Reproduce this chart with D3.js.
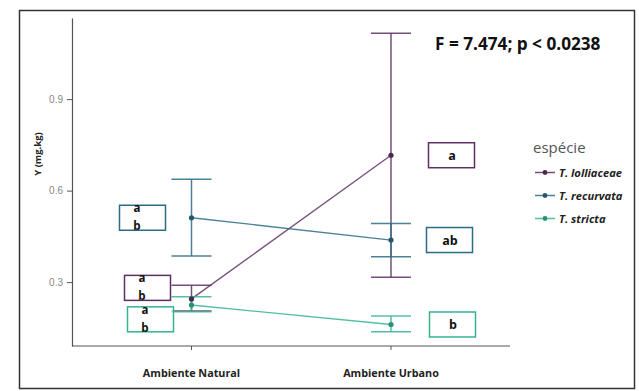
<!DOCTYPE html>
<html>
<head>
<meta charset="utf-8">
<script src="https://cdn.jsdelivr.net/npm/d3@7"></script>
<style>
  body { margin: 0; background: #fff; }
  svg { display: block; }
</style>
</head>
<body>
<svg id="chart" width="639" height="391"></svg>
<script>
// Environments on the x axis
const ambientes = ["Ambiente Natural", "Ambiente Urbano"];
// Species (legend order)
const especies = ["T. lolliaceae", "T. recurvata", "T. stricta"];
const cores = ["#5e2f63", "#2b6c84", "#34b394"];

// Means and error-bar limits per species, in ambiente order
const meanLolliaceae = [0.245, 0.716];
const lowLolliaceae  = [0.205, 0.316];
const highLolliaceae = [0.290, 1.116];

const meanRecurvata = [0.511, 0.438];
const lowRecurvata  = [0.386, 0.383];
const highRecurvata = [0.637, 0.492];

const meanStricta = [0.225, 0.161];
const lowStricta  = [0.203, 0.137];
const highStricta = [0.252, 0.189];

// Letter groups of the post-hoc test, per species and ambiente
const letrasLolliaceae = [["a", "b"], ["a"]];
const letrasRecurvata  = [["a", "b"], ["ab"]];
const letrasStricta    = [["a", "b"], ["b"]];

const yTicks = [0.3, 0.6, 0.9];
const statText = "F = 7.474; p < 0.0238";

const series = [
  { name: especies[0], color: cores[0], mean: meanLolliaceae, low: lowLolliaceae, high: highLolliaceae, letters: letrasLolliaceae },
  { name: especies[1], color: cores[1], mean: meanRecurvata, low: lowRecurvata, high: highRecurvata, letters: letrasRecurvata },
  { name: especies[2], color: cores[2], mean: meanStricta, low: lowStricta, high: highStricta, letters: letrasStricta }
];

const svg = d3.select("#chart");

// outer frame
svg.append("rect").attr("x", 19.5).attr("y", 10.5).attr("width", 615).attr("height", 378)
  .attr("fill", "#fff").attr("stroke", "#333").attr("stroke-width", 1.5);

const plot = { left: 72, right: 510, top: 18, bottom: 346 };

const y = d3.scaleLinear().domain([0.0905, 1.166]).range([plot.bottom, plot.top]);
// category centres sit at ~191 and ~391
const xc = d3.scaleLinear().domain([0, 1]).range([191.5, 391]);

// y axis
const yAxis = d3.axisLeft(y).tickValues(yTicks).tickFormat(d3.format(".1f")).tickSize(5).tickSizeOuter(0);
const gy = svg.append("g").attr("transform", `translate(${plot.left},0)`).call(yAxis);
gy.select(".domain").attr("stroke", "#555").attr("stroke-width", 1.2);
gy.selectAll(".tick line").attr("stroke", "#555");
gy.selectAll(".tick text").attr("fill", "#888").attr("font-family", "Liberation Sans, Arial, sans-serif")
  .attr("font-size", 10).attr("dx", -1);

// x axis
const gx = svg.append("g").attr("transform", `translate(0,${plot.bottom})`);
gx.append("line").attr("x1", plot.left).attr("x2", plot.right).attr("y1", 0).attr("y2", 0)
  .attr("stroke", "#555").attr("stroke-width", 1.2);
ambientes.forEach((a, i) => {
  gx.append("line").attr("x1", xc(i)).attr("x2", xc(i)).attr("y1", 0).attr("y2", 4).attr("stroke", "#555");
  gx.append("text").attr("x", xc(i)).attr("y", 30.5).attr("text-anchor", "middle")
    .attr("font-family", "Open Sans, sans-serif").attr("font-weight", "bold").attr("font-size", 10.8)
    .attr("fill", "#222").text(a);
});

// y label
svg.append("text").attr("transform", "translate(41,154) rotate(-90)").attr("text-anchor", "middle")
  .attr("font-family", "Open Sans, sans-serif").attr("font-weight", "bold").attr("font-size", 9.5)
  .attr("fill", "#222").text("Y (mg.kg)");

// lines, error bars and points
const capHalf = 20;
series.forEach(s => {
  const line = d3.line().x((d, i) => xc(i)).y(d => y(d));
  svg.append("path").datum(s.mean).attr("d", line).attr("fill", "none")
    .attr("stroke", s.color).attr("stroke-opacity", 0.85).attr("stroke-width", 1.3);
  s.mean.forEach((m, i) => {
    const g = svg.append("g").attr("stroke", s.color).attr("stroke-opacity", 0.85).attr("stroke-width", 1.5);
    g.append("line").attr("x1", xc(i)).attr("x2", xc(i)).attr("y1", y(s.low[i])).attr("y2", y(s.high[i]));
    [s.low[i], s.high[i]].forEach(v => {
      g.append("line").attr("x1", xc(i) - capHalf).attr("x2", xc(i) + capHalf).attr("y1", y(v)).attr("y2", y(v));
    });
  });
});
series.forEach(s => {
  s.mean.forEach((m, i) => {
    svg.append("circle").attr("cx", xc(i)).attr("cy", y(m)).attr("r", 2.6)
      .attr("fill", d3.color(s.color).darker(0.6));
  });
});

// letter boxes
const boxW = 46, boxH = 25;
const boxes = [
  // [series index, ambiente index, box x, box centre value, extra y shift]
  [1, 0, 119, 0.511, 0],
  [0, 0, 124, 0.245, -11],
  [2, 0, 127, 0.178, 0],
  [0, 1, 428, 0.716, 0],
  [1, 1, 426, 0.438, 0],
  [2, 1, 429, 0.161, 0]
];
boxes.forEach(([si, ai, bx, v, dy]) => {
  const s = series[si];
  const cy = y(v) + dy;
  const by = cy - boxH / 2;
  svg.append("rect").attr("x", bx + 0.5).attr("y", by).attr("width", boxW).attr("height", boxH)
    .attr("fill", "#fff").attr("fill-opacity", 0.6).attr("stroke", s.color).attr("stroke-width", 1.5);
  const lt = s.letters[ai];
  if (lt.length === 1) {
    svg.append("text").attr("x", bx + boxW / 2 + 1).attr("y", cy + 4.5).attr("text-anchor", "middle")
      .attr("font-family", "Open Sans, sans-serif").attr("font-weight", "bold").attr("font-size", 12.5)
      .attr("fill", "#111").text(lt[0]);
  } else {
    lt.forEach((l, k) => {
      svg.append("text").attr("x", bx + 18).attr("y", by + 7 + k * 18).attr("text-anchor", "middle")
        .attr("font-family", "Open Sans, sans-serif").attr("font-weight", "bold").attr("font-size", 11.5)
        .attr("fill", "#111").text(l);
    });
  }
});

// test statistic
svg.append("text").attr("x", 435).attr("y", 50).attr("font-family", "Open Sans, sans-serif")
  .attr("font-weight", "bold").attr("font-size", 17.2).attr("fill", "#111").text(statText);

// legend
const lg = svg.append("g").attr("transform", "translate(533,0)");
lg.append("text").attr("x", 0).attr("y", 153).attr("font-family", "Open Sans, sans-serif")
  .attr("font-size", 15).attr("fill", "#555").text("espécie");
series.forEach((s, i) => {
  const ly = 172.5 + i * 23;
  lg.append("line").attr("x1", 2).attr("x2", 22).attr("y1", ly).attr("y2", ly)
    .attr("stroke", s.color).attr("stroke-opacity", 0.85).attr("stroke-width", 1.5);
  lg.append("circle").attr("cx", 12).attr("cy", ly).attr("r", 2.4).attr("fill", d3.color(s.color).darker(0.6));
  lg.append("text").attr("x", 26).attr("y", ly + 4).attr("font-family", "Open Sans, sans-serif")
    .attr("font-style", "italic").attr("font-weight", "bold").attr("font-size", 11.2).attr("fill", "#222").text(s.name);
});
</script>
</body>
</html>
